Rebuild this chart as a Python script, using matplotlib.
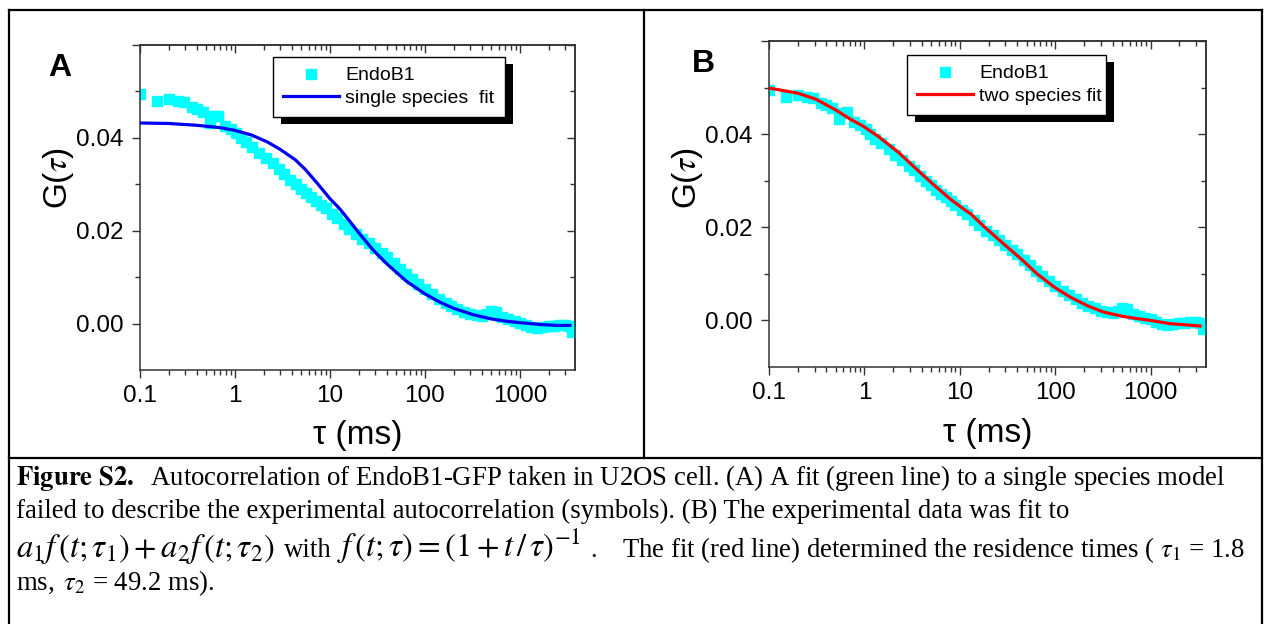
import matplotlib
matplotlib.use("Agg")
import matplotlib.pyplot as plt
from matplotlib.lines import Line2D
from matplotlib.patches import Rectangle
from matplotlib.ticker import FixedLocator, NullFormatter, LogLocator

plt.rcParams['font.family'] = ['Liberation Sans', 'DejaVu Sans']
plt.rcParams['mathtext.fontset'] = 'stix'

# ---- data ----
tau_data = [0.10, 0.15, 0.20, 0.25, 0.29, 0.35, 0.40, 0.46, 0.54, 0.60, 0.66, 0.78,
            0.90, 1.03, 1.15, 1.3, 1.5, 1.8, 2.1, 2.5, 2.9, 3.3, 3.8, 4.4, 5.0, 5.6,
            6.3, 7.1, 8.0, 9.0, 10.5, 12, 14, 16, 19, 22, 26, 30, 35, 40, 47, 55,
            63, 73, 85, 100, 120, 140, 165, 190, 220, 260, 300, 350, 400, 450, 500,
            560, 650, 750, 880, 1000, 1150, 1300, 1500, 1700, 2000, 2300, 2600,
            3000, 3300, 3500]
g_data = [0.0494, 0.0480, 0.0484, 0.0480, 0.0478, 0.0467, 0.0462, 0.0456, 0.0432,
          0.0446, 0.0447, 0.0426, 0.0420, 0.0410, 0.0400, 0.0390, 0.0380, 0.0368,
          0.0356, 0.0345, 0.0332, 0.0322, 0.0310, 0.0300, 0.0290, 0.0281, 0.0272,
          0.0264, 0.0256, 0.0248, 0.0237, 0.0228, 0.0215, 0.0204, 0.0193, 0.0183,
          0.0173, 0.0163, 0.0152, 0.0143, 0.0130, 0.0118, 0.0107, 0.0096, 0.0085,
          0.0074, 0.0063, 0.0054, 0.0045, 0.0038, 0.0032, 0.0026, 0.0021, 0.0019,
          0.0017, 0.0021, 0.0027, 0.0024, 0.0014, 0.0009, 0.0005, 0.0002, -0.0003,
          -0.0008, -0.0010, -0.0008, -0.0006, -0.0006, -0.0004, -0.0003, -0.0006,
          -0.0018]

tau_fit_a = [0.1, 0.2, 0.4, 0.7, 1.0, 1.5, 2.2, 3.0, 4.3, 5.5, 7.5, 10, 12.7, 15.5,
             20, 28.6, 40, 64, 100, 144, 200, 323, 500, 725, 1000, 1623, 2500, 3360]
g_fit_a = [0.0432, 0.0431, 0.0427, 0.0422, 0.0416, 0.0406, 0.0391, 0.0375, 0.0353,
           0.0332, 0.0300, 0.0269, 0.0247, 0.0225, 0.0196, 0.0158, 0.0128, 0.0091,
           0.0064, 0.0046, 0.0033, 0.0019, 0.0010, 0.0005, 0.0002, -0.0002,
           -0.0004, -0.0004]

tau_fit_b = [0.1, 0.2, 0.31, 0.5, 0.7, 0.955, 1.4, 2.3, 3.3, 5.2, 8, 11.5, 13, 17.8,
             28.9, 45, 64.5, 100, 144, 220, 321, 500, 718, 1000, 1603, 2500, 3300]
g_fit_b = [0.0499, 0.0488, 0.0475, 0.0452, 0.0433, 0.0418, 0.0395, 0.0360, 0.0330,
           0.0293, 0.0260, 0.0236, 0.0229, 0.0202, 0.0164, 0.0130, 0.0100, 0.0070,
           0.0050, 0.0031, 0.0018, 0.0009, 0.0004, 0.0000, -0.0007, -0.0010,
           -0.0012]

x_ticks = [0.1, 1, 10, 100, 1000]
x_tick_labels = ["0.1", "1", "10", "100", "1000"]
y_ticks = [0.00, 0.02, 0.04, 0.06]
y_tick_labels = ["0.00", "0.02", "0.04", ""]
y_minor = [0.01, 0.03, 0.05]

W, H = 1264, 624
fig = plt.figure(figsize=(W / 100, H / 100), dpi=100)


def px_axes(x0, y0, x1, y1):
    return fig.add_axes([x0 / W, 1 - y1 / H, (x1 - x0) / W, (y1 - y0) / H])


def draw_panel(ax, letter, letter_x, fit_tau, fit_g, fit_color, fit_label,
               leg_box, ylab_xy):
    ax.plot(tau_data, g_data, ls='none', marker='s', ms=6.5, mfc='#00FFFF',
            mec='#00FFFF', label='EndoB1', zorder=2)
    ax.plot(fit_tau, fit_g, color=fit_color, lw=2.3, label=fit_label, zorder=3)
    ax.set_xscale('log')
    ax.set_xlim(0.1, 3800)
    ax.set_ylim(-0.01, 0.06)

    ax.set_xticks(x_ticks, x_tick_labels)
    ax.xaxis.set_minor_locator(LogLocator(base=10, subs=range(2, 10), numticks=20))
    ax.xaxis.set_minor_formatter(NullFormatter())
    ax.set_yticks(y_ticks, y_tick_labels)
    ax.yaxis.set_minor_locator(FixedLocator(y_minor))

    ax.tick_params(which='both', direction='out', top=False, right=False,
                   color='#333333', width=1.0, labelsize=17.5)
    ax.tick_params(which='major', length=6)
    ax.tick_params(which='minor', length=3.5)
    ax.tick_params(axis='x', pad=5)
    ax.tick_params(axis='y', pad=6)
    for sp in ax.spines.values():
        sp.set_color('#333333')
        sp.set_linewidth(1.1)

    # mirrored ticks pointing inward on top and right
    top = ax.secondary_xaxis('top')
    top.set_xticks(x_ticks)
    top.xaxis.set_minor_locator(LogLocator(base=10, subs=range(2, 10), numticks=20))
    top.tick_params(axis='x', which='both', direction='in', labeltop=False,
                    color='#333333', width=1.0)
    top.tick_params(which='major', length=6)
    top.tick_params(which='minor', length=3.5)
    top.xaxis.set_minor_formatter(NullFormatter())
    top.spines['top'].set_color('#333333')
    top.spines['top'].set_linewidth(1.1)

    right = ax.secondary_yaxis('right')
    right.set_yticks(y_ticks)
    right.yaxis.set_minor_locator(FixedLocator(y_minor))
    right.tick_params(axis='y', which='both', direction='in', labelright=False,
                      color='#333333', width=1.0)
    right.tick_params(which='major', length=6)
    right.tick_params(which='minor', length=3.5)
    right.spines['right'].set_color('#333333')
    right.spines['right'].set_linewidth(1.1)

    ax.set_xlabel("τ (ms)", fontsize=24)
    ax.xaxis.set_label_coords(0.5, -0.155)
    ax.set_ylabel(r"G($\tau$)", fontsize=24)
    ax.yaxis.set_label_coords(*ylab_xy)

    ax.text(letter_x, 0.93, letter, transform=ax.transAxes, fontsize=23,
            fontweight='bold', ha='center', va='center')

    leg = ax.legend(loc='upper left', bbox_to_anchor=leg_box, mode='expand',
                    frameon=True, fancybox=False, framealpha=1, edgecolor='black',
                    fontsize=14, numpoints=1, handlelength=2.9, handletextpad=0.3,
                    borderpad=0.5, labelspacing=0.25, borderaxespad=0)
    leg.get_frame().set_linewidth(1.0)
    leg.set_zorder(6)
    return leg


ax_a = px_axes(140, 45, 575, 370)
leg_a = draw_panel(ax_a, "A", -0.184, tau_fit_a, g_fit_a, '#0000F0',
                   "single species  fit", (0.306, 0.78, 0.533, 0.183),
                   (-0.147, 0.59))
ax_b = px_axes(769, 41, 1206, 367)
leg_b = draw_panel(ax_b, "B", -0.149, tau_fit_b, g_fit_b, '#FF0000',
                   "two species fit", (0.316, 0.78, 0.455, 0.177),
                   (-0.146, 0.58))

# ---- black drop shadow behind the legend boxes ----
fig.canvas.draw()
for ax, leg in [(ax_a, leg_a), (ax_b, leg_b)]:
    bb = leg.get_window_extent().transformed(ax.transAxes.inverted())
    dx = 8 / ax.bbox.width
    dy = 7 / ax.bbox.height
    ax.add_patch(Rectangle((bb.x0 + dx, bb.y0 - dy), bb.width, bb.height,
                           transform=ax.transAxes, facecolor='black',
                           edgecolor='none', clip_on=False, zorder=5.5))


# ---- table frame lines ----
def fig_line(x0, y0, x1, y1, lw=1.6):
    fig.add_artist(Line2D([x0 / W, x1 / W], [1 - y0 / H, 1 - y1 / H],
                          color='black', lw=lw))


fig_line(9, 10, 1262, 10)
fig_line(9, 10, 9, 624)
fig_line(1262, 10, 1262, 624)
fig_line(644, 10, 644, 458)
fig_line(9, 458, 1262, 458)

# ---- caption ----
serif = ['Liberation Serif', 'DejaVu Serif']
cap_kw = dict(fontsize=19.3, family=serif, ha='left', va='baseline')
math_kw = dict(fontsize=23.5, family=serif, ha='left', va='baseline')


def cap(x, y, s, **kw):
    fig.text(x / W, 1 - y / H, s, **kw)


cap(16, 485, r"$\mathbf{Figure\ S2.}$  Autocorrelation of EndoB1-GFP taken in U2OS "
    "cell. (A) A fit (green line) to a single species model", **cap_kw)
cap(16, 518, "failed to describe the experimental autocorrelation (symbols). "
    "(B) The experimental data was fit to", **cap_kw)
cap(16, 557, r"$a_1 f\,\left(t;\tau_1\right) + a_2 f\,\left(t;\tau_2\right)$", **math_kw)
cap(284, 557, "with", **cap_kw)
cap(337, 557, r"$f\,\left(t;\tau\right) = \left(1 + t\,/\,\tau\right)^{-1}$", **math_kw)
cap(590, 557, ".", **cap_kw)
cap(622, 557, r"The fit (red line) determined the residence times ( $\tau_1$ = 1.8",
    **cap_kw)
cap(16, 590, r"ms, $\,\tau_2$ = 49.2 ms).", **cap_kw)

fig.savefig("out.png", dpi=100)
